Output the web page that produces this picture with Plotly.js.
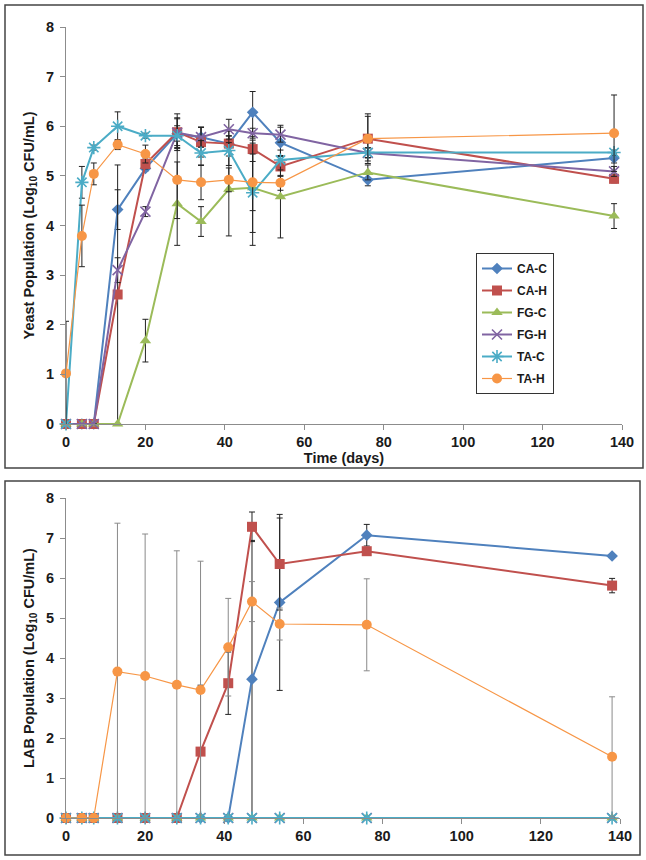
<!DOCTYPE html>
<html>
<head>
<meta charset="utf-8">
<script src="https://cdn.plot.ly/plotly-3.0.1.min.js"></script>
<style>html,body{margin:0;padding:0;background:#fff;}#chart{width:646px;height:860px;}</style>
</head>
<body>
<div id="chart"></div>
<script>
// ---- Data ----
const days = [0, 4, 7, 13, 20, 28, 34, 41, 47, 54, 76, 138];
const seriesNames = ["CA-C", "CA-H", "FG-C", "FG-H", "TA-C", "TA-H"];

// Yeast population (Log10 CFU/mL)
const yeastCAC = [0, 0, 0, 4.32, 5.15, 5.85, 5.78, 5.65, 6.28, 5.67, 4.92, 5.36];
const yeastCAH = [0, 0, 0, 2.61, 5.24, 5.88, 5.68, 5.65, 5.54, 5.19, 5.75, 4.94];
const yeastFGC = [0, 0, 0, 0, 1.68, 4.44, 4.08, 4.73, 4.76, 4.58, 5.07, 4.19];
const yeastFGH = [0, 0, 0, 3.10, 4.28, 5.87, 5.78, 5.94, 5.86, 5.83, 5.46, 5.09];
const yeastTAC = [0, 4.87, 5.57, 6.00, 5.81, 5.81, 5.46, 5.51, 4.66, 5.32, 5.47, 5.47];
const yeastTAH = [1.02, 3.79, 5.04, 5.63, 5.44, 4.92, 4.87, 4.92, 4.87, 4.86, 5.75, 5.86];

const yeastCACerr = [0, 0, 0, 0.40, 0.05, 0.30, 0.20, 0.25, 0.42, 0.35, 0.12, 0.10];
const yeastCAHerr = [0, 0, 0, 2.61, 0.10, 0.37, 0.30, 0.15, 0.25, 0.20, 0.50, 0.08];
const yeastFGCerr = [0, 0, 0, 0, 0.43, 0.84, 0.30, 0.94, 0.90, 0.83, 0.15, 0.25];
const yeastFGHerr = [0, 0, 0, 0.25, 0.10, 0.30, 0.20, 0.20, 0.10, 0.15, 0.10, 0.10];
const yeastTACerr = [0, 0.32, 0.05, 0.29, 0.05, 0.20, 0.25, 0.30, 1.06, 0.20, 0.10, 0.05];
const yeastTAHerr = [1.05, 0.62, 0.22, 0.10, 0.18, 0.78, 0.35, 0.24, 0.57, 0.15, 0.45, 0.77];

// LAB population (Log10 CFU/mL)
const labCAC = [0, 0, 0, 0, 0, 0, 0, 0, 3.47, 5.39, 7.07, 6.55];
const labCAH = [0, 0, 0, 0, 0, 0, 1.66, 3.37, 7.28, 6.35, 6.67, 5.81];
const labFGC = [0, 0, 0, 0, 0, 0, 0, 0, 0, 0, 0, 0];
const labFGH = [0, 0, 0, 0, 0, 0, 0, 0, 0, 0, 0, 0];
const labTAC = [0, 0, 0, 0, 0, 0, 0, 0, 0, 0, 0, 0];
const labTAH = [0, 0, 0, 3.66, 3.55, 3.33, 3.20, 4.27, 5.41, 4.85, 4.83, 1.53];

const labCACerr = [0, 0, 0, 0, 0, 0, 0, 0, 3.47, 2.20, 0.27, 0.03];
const labCAHerr = [0, 0, 0, 0, 0, 0, 1.66, 0.78, 0.37, 1.15, 0.05, 0.18];
const labZeroErr = [0, 0, 0, 0, 0, 0, 0, 0, 0, 0, 0, 0];
const labTAHerr = [0, 0, 0, 3.71, 3.55, 3.35, 3.22, 1.22, 0.50, 0.40, 1.15, 1.50];

const xTicks = [0, 20, 40, 60, 80, 100, 120, 140];
const yTicks = [0, 1, 2, 3, 4, 5, 6, 7, 8];

// ---- Styles ----
const colors = ["#4F81BD", "#C0504D", "#9BBB59", "#8064A2", "#4BACC6", "#F79646"];
const symbols = ["diamond", "square", "triangle-up", "x-thin-open", "asterisk-open", "circle"];
const msizes = [9, 10, 10, 10, 11, 10];
const lwidths = [2, 2, 2, 2, 2, 1.2];

const yeastVals = [yeastCAC, yeastCAH, yeastFGC, yeastFGH, yeastTAC, yeastTAH];
const yeastErrs = [yeastCACerr, yeastCAHerr, yeastFGCerr, yeastFGHerr, yeastTACerr, yeastTAHerr];
const labVals = [labCAC, labCAH, labFGC, labFGH, labTAC, labTAH];
const labErrs = [labCACerr, labCAHerr, labZeroErr, labZeroErr, labZeroErr, labTAHerr];
const labErrColors = ["#222", "#222", "#222", "#222", "#222", "#8a8a8a"];

const traces = [];
seriesNames.forEach((name, i) => {
  const mk = {symbol: symbols[i], size: msizes[i], color: colors[i],
              line: {color: colors[i], width: (symbols[i].indexOf("open") >= 0) ? 1.6 : 0}};
  traces.push({
    x: days, y: yeastVals[i], name: name, type: "scatter", mode: "lines+markers",
    xaxis: "x", yaxis: "y", legendgroup: name, cliponaxis: false,
    line: {color: colors[i], width: lwidths[i]}, marker: mk,
    error_y: {type: "data", array: yeastErrs[i], visible: true, color: "#222", thickness: 1, width: 3}
  });
});
seriesNames.forEach((name, i) => {
  const mk = {symbol: symbols[i], size: msizes[i], color: colors[i],
              line: {color: colors[i], width: (symbols[i].indexOf("open") >= 0) ? 1.6 : 0}};
  traces.push({
    x: days, y: labVals[i], name: name, type: "scatter", mode: "lines+markers",
    xaxis: "x2", yaxis: "y2", showlegend: false, cliponaxis: false,
    line: {color: colors[i], width: lwidths[i]}, marker: mk,
    error_y: {type: "data", array: labErrs[i], visible: true, color: labErrColors[i], thickness: 1, width: 3}
  });
});

const tickFont = {family: "Liberation Sans, Arial, sans-serif", size: 14.5, color: "#1a1a1a", weight: "bold"};
const titleFont = {family: "Liberation Sans, Arial, sans-serif", size: 14.5, color: "#1a1a1a", weight: "bold"};
const axisCommon = {
  showgrid: false, zeroline: false, showline: true, linecolor: "#8c8c8c", linewidth: 1,
  ticks: "outside", ticklen: 5, tickcolor: "#8c8c8c", tickfont: tickFont, fixedrange: true
};
const W = 646, H = 860;
const layout = {
  width: W, height: H, margin: {l: 0, r: 0, t: 0, b: 0},
  paper_bgcolor: "#fff", plot_bgcolor: "rgba(0,0,0,0)",
  xaxis: Object.assign({}, axisCommon, {domain: [66 / W, 622 / W], range: [0, 140], tickvals: xTicks, anchor: "y",
    title: {text: "Time (days)", font: titleFont, standoff: 1}}),
  yaxis: Object.assign({}, axisCommon, {domain: [(H - 424) / H, (H - 27) / H], range: [0, 8], tickvals: yTicks, anchor: "x",
    ticklabelstandoff: 3,
    title: {text: "Yeast Population (Log<sub>10</sub> CFU/mL)", font: titleFont, standoff: 7}}),
  xaxis2: Object.assign({}, axisCommon, {domain: [66 / W, 620 / W], range: [0, 140], tickvals: xTicks, anchor: "y2"}),
  yaxis2: Object.assign({}, axisCommon, {domain: [(H - 818) / H, (H - 498) / H], range: [0, 8], tickvals: yTicks, anchor: "x2",
    ticklabelstandoff: 3,
    title: {text: "LAB Population (Log<sub>10</sub> CFU/mL)", font: titleFont, standoff: 7}}),
  showlegend: true,
  legend: {x: 476 / W, y: (H - 253) / H, xanchor: "left", yanchor: "top", bgcolor: "#fff",
    bordercolor: "#333", borderwidth: 1, tracegroupgap: 3, itemwidth: 30,
    font: {family: "Liberation Sans, Arial, sans-serif", size: 12, color: "#1a1a1a", weight: "bold"}},
  shapes: [
    {type: "rect", xref: "paper", yref: "paper", x0: 5 / W, x1: 643 / W, y0: (H - 468) / H, y1: (H - 5) / H,
     line: {color: "#444", width: 1.5}, fillcolor: "rgba(0,0,0,0)", layer: "below"},
    {type: "rect", xref: "paper", yref: "paper", x0: 5 / W, x1: 640 / W, y0: (H - 855) / H, y1: (H - 481) / H,
     line: {color: "#444", width: 1.5}, fillcolor: "rgba(0,0,0,0)", layer: "below"}
  ]
};
Plotly.newPlot("chart", traces, layout, {displayModeBar: false, staticPlot: true});
</script>
</body>
</html>
